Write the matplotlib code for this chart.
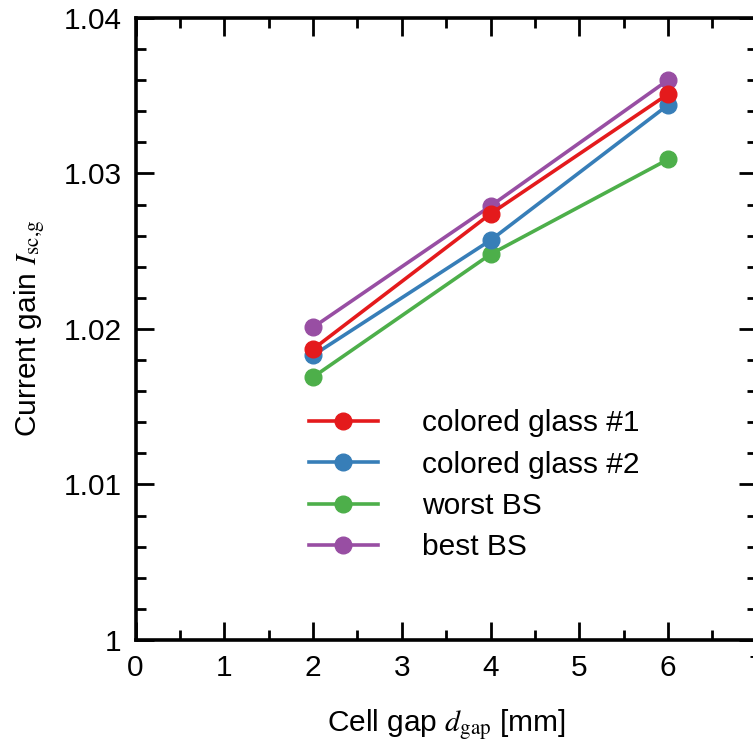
import matplotlib
matplotlib.use("Agg")
import matplotlib.pyplot as plt
from matplotlib.ticker import MultipleLocator, FixedLocator

plt.rcParams['font.family'] = ['Liberation Sans', 'DejaVu Sans']
plt.rcParams['mathtext.fontset'] = 'stix'

# data
gap = [2, 4, 6]
glass1 = [1.0187, 1.0274, 1.0351]
glass2 = [1.0183, 1.0257, 1.0344]
worst_bs = [1.0169, 1.0248, 1.0309]
best_bs = [1.0201, 1.0279, 1.0360]

labels = ['colored glass #1', 'colored glass #2', 'worst BS', 'best BS']
colors = ['#e41a1c', '#377eb8', '#4daf4a', '#984ea3']
series = [glass1, glass2, worst_bs, best_bs]

fig = plt.figure(figsize=(7.53, 7.45), dpi=100)
ax = fig.add_axes([0.18, 0.141, 0.825, 0.835])

# draw purple/green first so red and blue sit on top, like the reference
order = [3, 2, 1, 0]
handles = {}
for i in order:
    h, = ax.plot(gap, series[i], '-o', color=colors[i], lw=2.6, ms=12,
                 label=labels[i], clip_on=False)
    handles[i] = h

ax.set_xlim(0, 7)
ax.set_ylim(1.0, 1.04)
ax.xaxis.set_major_locator(MultipleLocator(1))
ax.xaxis.set_minor_locator(MultipleLocator(0.5))
ax.yaxis.set_major_locator(FixedLocator([1.0, 1.01, 1.02, 1.03, 1.04]))
ax.yaxis.set_minor_locator(MultipleLocator(0.002))
ax.set_yticklabels(['1', '1.01', '1.02', '1.03', '1.04'])

ax.tick_params(which='both', direction='in', top=True, right=True,
               width=2, labelsize=21.5, pad=10)
ax.tick_params(which='major', length=13)
ax.tick_params(which='minor', length=7)
for s in ax.spines.values():
    s.set_linewidth(2.6)

ax.set_xlabel(r'Cell gap $d_{\mathrm{gap}}$ [mm]', fontsize=21.5, labelpad=18)
ax.set_ylabel(r'Current gain $I_{\mathrm{sc{,}g}}$', fontsize=21.5, labelpad=12)

ax.legend([handles[i] for i in range(4)], labels, loc='upper left',
          bbox_to_anchor=(0.255, 0.395), frameon=False, fontsize=21.5,
          handlelength=2.3, handletextpad=1.5, labelspacing=0.45,
          borderpad=0)

fig.savefig('out.png', dpi=100)
